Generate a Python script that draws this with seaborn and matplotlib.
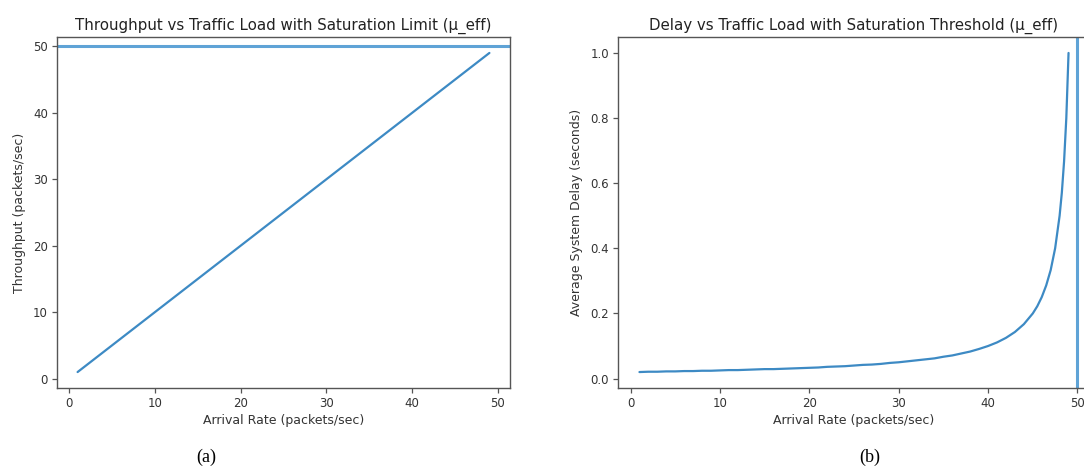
import numpy as np
import pandas as pd
import matplotlib
matplotlib.use("Agg")
import matplotlib.pyplot as plt
import seaborn as sns

# ---- data ----
arrival_rate = list(range(1, 50))                      # packets/sec
throughput = list(range(1, 50))                        # packets/sec (equals arrival below saturation)
delay_rate = [1, 2, 3, 4, 5, 6, 7, 8, 9, 10, 11, 12, 13, 14, 15, 16, 17, 18, 19, 20,
              21, 22, 23, 24, 25, 26, 27, 28, 29, 30, 31, 32, 33, 34, 35, 36, 37, 38, 39, 40,
              41, 42, 43, 44, 45, 45.5, 46, 46.5, 47, 47.5, 48, 48.25, 48.5, 48.75, 49]
delay = [0.020, 0.021, 0.021, 0.022, 0.022, 0.023, 0.023, 0.024, 0.024, 0.025,
         0.026, 0.026, 0.027, 0.028, 0.029, 0.029, 0.030, 0.031, 0.032, 0.033,
         0.034, 0.036, 0.037, 0.038, 0.040, 0.042, 0.043, 0.045, 0.048, 0.050,
         0.053, 0.056, 0.059, 0.062, 0.067, 0.071, 0.077, 0.083, 0.091, 0.100,
         0.111, 0.125, 0.143, 0.167, 0.200, 0.222, 0.250, 0.286, 0.333, 0.400,
         0.500, 0.571, 0.667, 0.800, 1.000]
mu_eff = 50

title_a = "Throughput vs Traffic Load with Saturation Limit (\u03bc_eff)"
title_b = "Delay vs Traffic Load with Saturation Threshold (\u03bc_eff)"
xlabel = "Arrival Rate (packets/sec)"
ylabel_a = "Throughput (packets/sec)"
ylabel_b = "Average System Delay (seconds)"

df_a = pd.DataFrame({"rate": arrival_rate, "thr": throughput})
df_b = pd.DataFrame({"rate": delay_rate, "delay": delay})

sns.set_theme(style="ticks")
plt.rcParams["font.family"] = ["DejaVu Sans"]
plt.rcParams.update({
    "xtick.labelsize": 8.5, "ytick.labelsize": 8.5,
    "axes.labelsize": 9, "axes.titlesize": 10.8,
    "axes.edgecolor": "#555555", "xtick.color": "#555555", "ytick.color": "#555555",
    "xtick.labelcolor": "#333333", "ytick.labelcolor": "#333333",
    "axes.labelcolor": "#333333", "text.color": "#222222",
    "axes.linewidth": 1.0,
})

line_c = "#3d8ac4"
sat_c = "#5fa3d6"

fig = plt.figure(figsize=(10.84, 4.68), dpi=100)
W, H = 1084, 468
ax1 = fig.add_axes([57 / W, (H - 388) / H, 453 / W, 351 / H])
ax2 = fig.add_axes([618 / W, (H - 388) / H, 472 / W, 351 / H])

sns.lineplot(data=df_a, x="rate", y="thr", ax=ax1, color=line_c, linewidth=1.6)
ax1.axhline(mu_eff, color=sat_c, linewidth=2.2)
ax1.set_title(title_a, pad=5)
ax1.set_xlabel(xlabel)
ax1.set_ylabel(ylabel_a)
ax1.set_xticks([0, 10, 20, 30, 40, 50])
ax1.set_yticks([0, 10, 20, 30, 40, 50])

sns.lineplot(data=df_b, x="rate", y="delay", ax=ax2, color=line_c, linewidth=1.6)
ax2.axvline(mu_eff, color=sat_c, linewidth=2.2)
ax2.set_title(title_b, pad=5)
ax2.set_xlabel(xlabel)
ax2.set_ylabel(ylabel_b)
ax2.set_xticks([0, 10, 20, 30, 40, 50])
ax2.set_yticks([0.0, 0.2, 0.4, 0.6, 0.8, 1.0])

for ax in (ax1, ax2):
    ax.tick_params(length=3.5, width=0.9, pad=3)
    ax.xaxis.labelpad = 3
    ax.yaxis.labelpad = 5

fig.text(206 / W, 1 - 457 / H, "(a)", family="Liberation Serif", fontsize=13,
         ha="center", va="center", color="black")
fig.text(870 / W, 1 - 457 / H, "(b)", family="Liberation Serif", fontsize=13,
         ha="center", va="center", color="black")

fig.savefig("out.png", dpi=100)
